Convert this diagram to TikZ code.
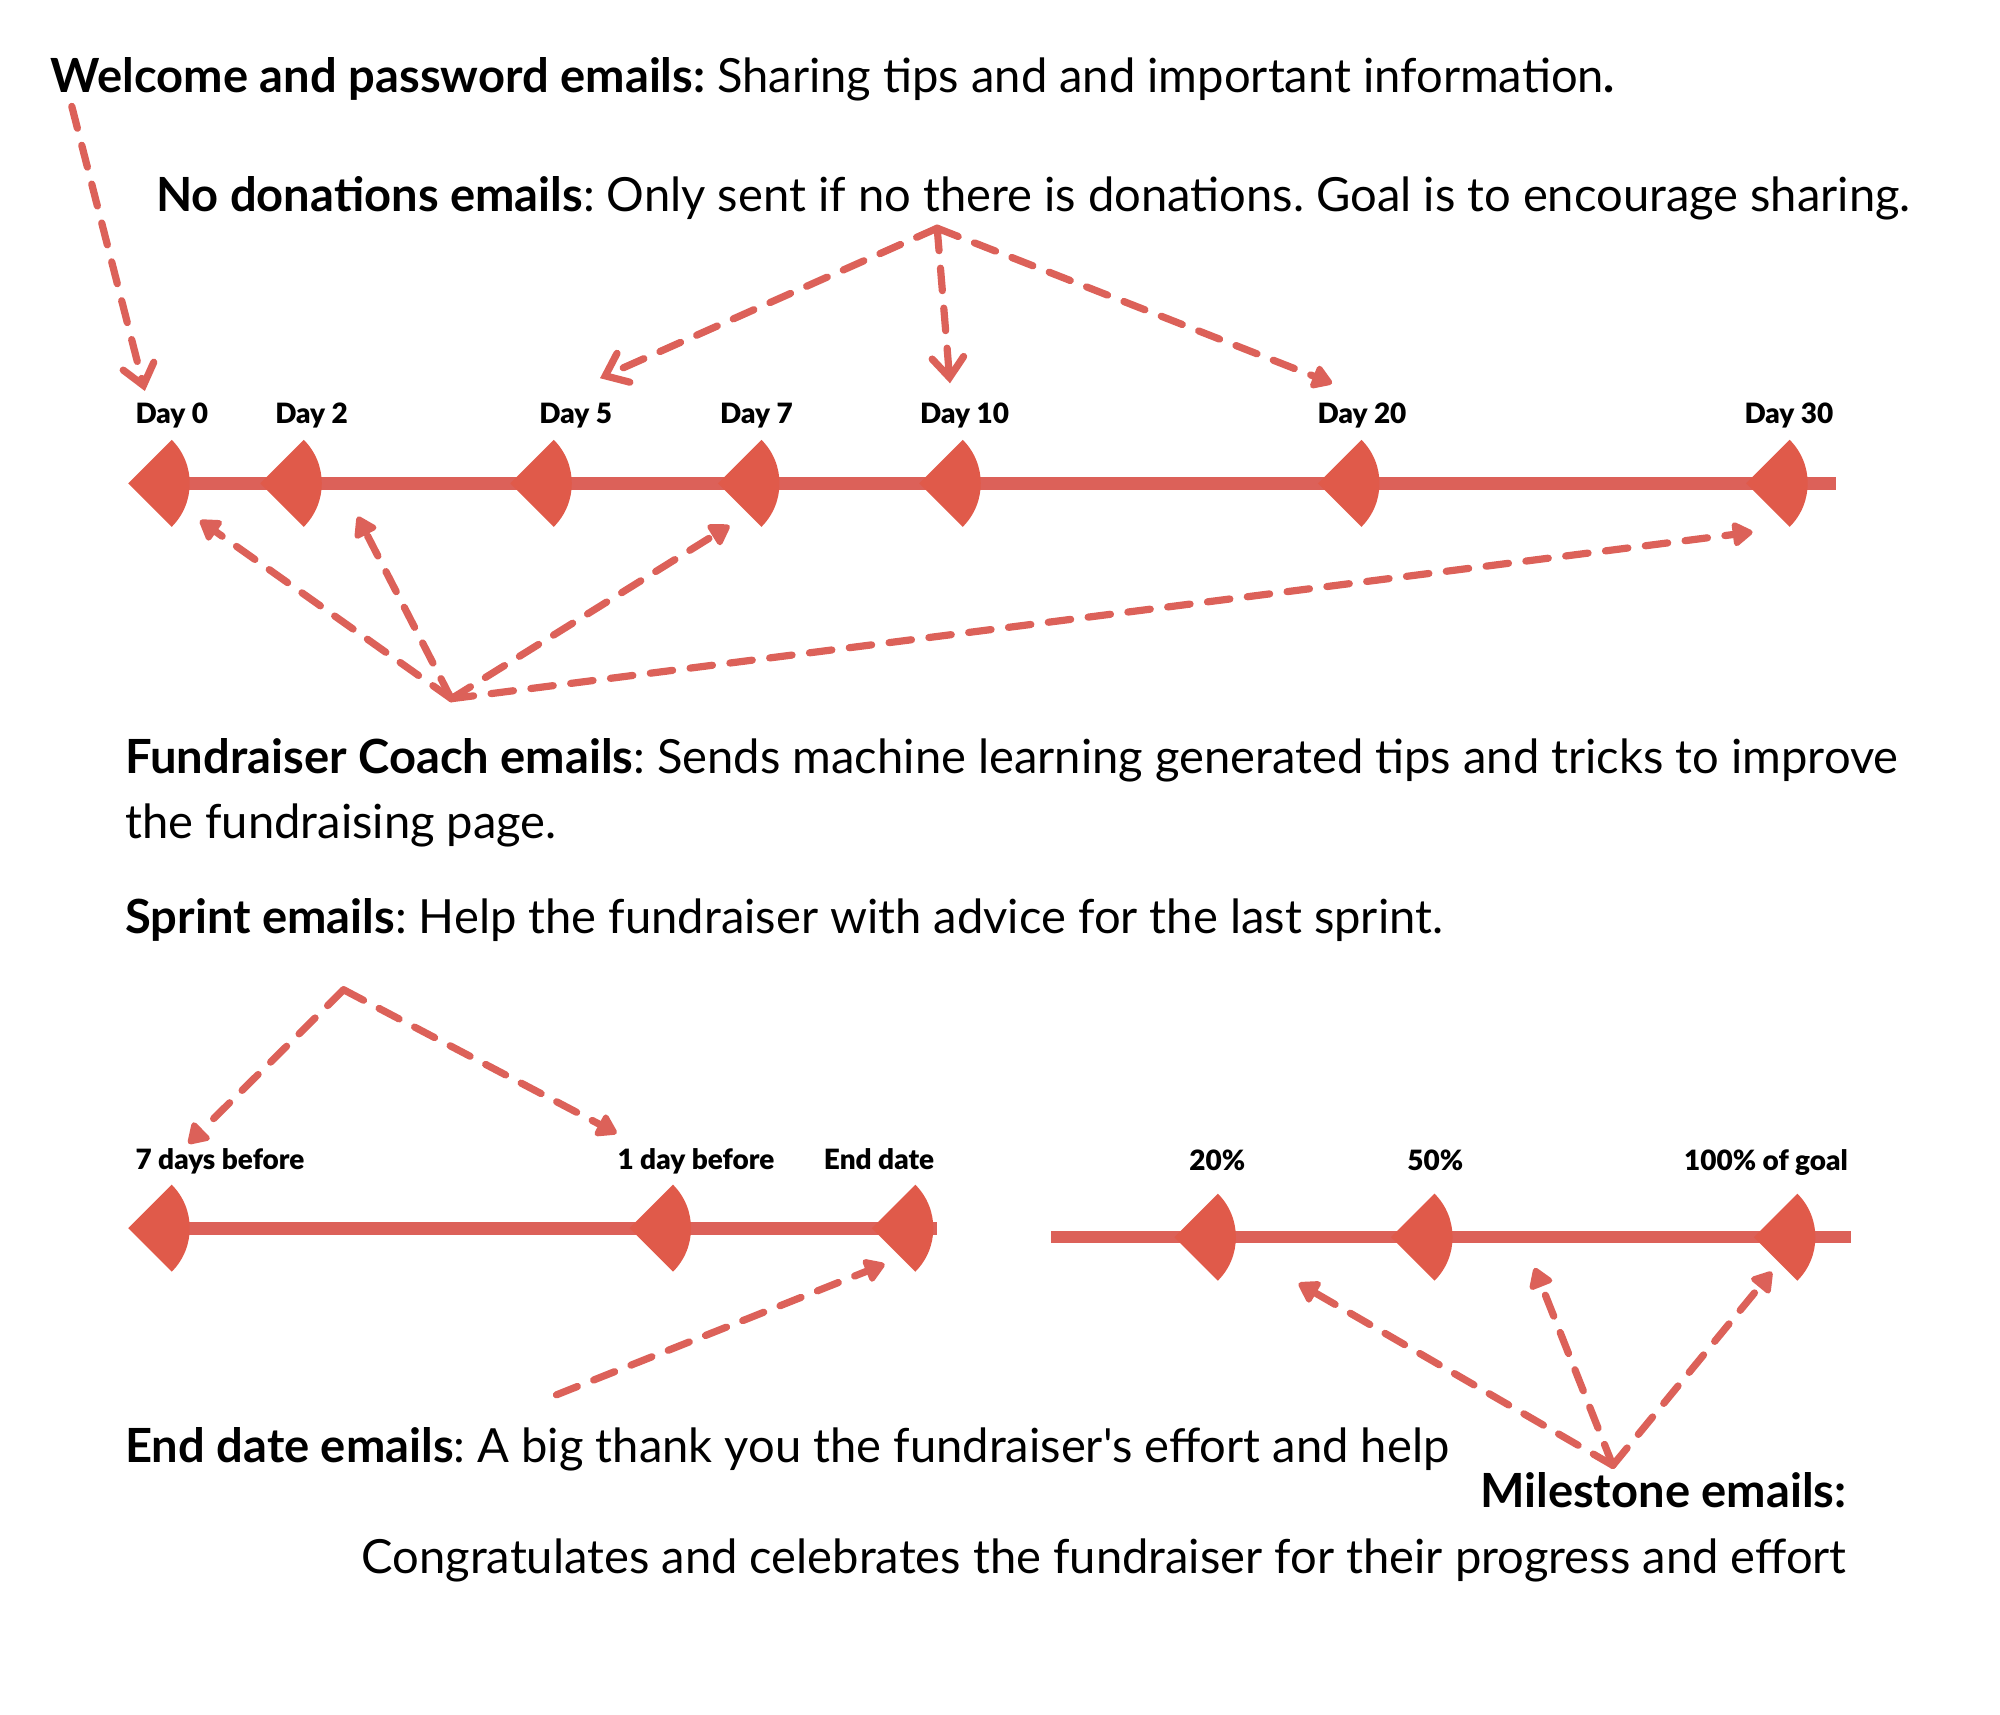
\documentclass[tikz,border=0pt]{standalone}
\usepackage{fontspec}
\setmainfont{Lato}[Ligatures=TeXOff]
\IfFontExistsTF{Lato Black}
  {\newfontfamily\heavyfont{Lato Black}[Ligatures=TeXOff]}
  {\newfontfamily\heavyfont{Lato}[Ligatures=TeXOff,UprightFont=*-Bold,FakeStretch=1.06]}
\usetikzlibrary{arrows.meta}
\definecolor{markred}{HTML}{E05A4A}
\definecolor{linered}{HTML}{DC6159}
% sector shaped marker, tip on the left
\newcommand{\daymark}[3]{%
  \fill[markred] (#2-34,#3) coordinate (#1) -- ++(45:48) arc[start angle=45,end angle=-45,radius=48] -- cycle;}
\begin{document}
\frenchspacing
\begin{tikzpicture}[x=0.01cm,y=-0.01cm,
  txt/.style={anchor=base west,inner sep=0pt,font=\fontsize{10.45}{12}\selectfont},
  lbl/.style={anchor=base west,inner sep=0pt,font=\fontsize{6.2}{7}\selectfont\heavyfont},
  axis/.style={linered,line width=2.8pt},
  hint/.style={linered,line width=1.6pt,line cap=round,dash pattern=on 5pt off 3.9pt,
    -{Triangle[length=5pt,width=6pt,round]}},
  barb/.style={hint,-{Straight Barb[length=4.4pt,width=7pt,line cap=round]}}]
\useasboundingbox (0,0) rectangle (1560,1337);

% texts
\node[txt] (welcome) at (39,72) {\textbf{Welcome and password emails:} Sharing tips and and important information\textbf{.}};
\node[txt] (nodon) at (121,165) {\textbf{No donations emails}: Only sent if no there is donations. Goal is to encourage sharing.};
\node[txt] (coach) at (97,603) {\textbf{Fundraiser Coach emails}: Sends machine learning generated tips and tricks to improve};
\node[txt] (coachb) at (97,654) {the fundraising page.};
\node[txt] (sprint) at (97,728) {\textbf{Sprint emails}: Help the fundraiser with advice for the last sprint.};
\node[txt] (enddate) at (97,1141) {\textbf{End date emails}: A big thank you the fundraiser's effort and help};
\node[txt,anchor=base east] (milestone) at (1441,1176) {\textbf{Milestone emails:}};
\node[txt,anchor=base east] (milestoneb) at (1441,1227) {Congratulates and celebrates the fundraiser for their progress and effort};

% first timeline
\draw[axis] (105,377) -- (1432,377);
\daymark{d0}{134}{377}
\daymark{d2}{237}{377}
\daymark{d5}{432}{377}
\daymark{d7}{594}{377}
\daymark{d10}{751}{377}
\daymark{d20}{1062}{377}
\daymark{d30}{1396}{377}
\node[lbl] (l0) at (105,330) {Day 0};
\node[lbl] (l2) at (214,330) {Day 2};
\node[lbl] (l5) at (420,330) {Day 5};
\node[lbl] (l7) at (561,330) {Day 7};
\node[lbl] (l10) at (717,330) {Day 10};
\node[lbl] (l20) at (1027,330) {Day 20};
\node[lbl] (l30) at (1360,330) {Day 30};

% second timeline
\draw[axis] (105,958) -- (731,958);
\daymark{s7}{134}{958}
\daymark{s1}{525}{958}
\daymark{se}{714}{958}
\node[lbl] (ls7) at (105,912) {7 days before};
\node[lbl] (ls1) at (481,912) {1 day before};
\node[lbl] (lse) at (642,912) {End date};

% third timeline
\draw[axis] (820,965) -- (1444,965);
\daymark{m20}{950}{965}
\daymark{m50}{1119}{965}
\daymark{m100}{1402}{965}
\node[lbl] (lm20) at (927,913) {20\%};
\node[lbl] (lm50) at (1097,913) {50\%};
\node[lbl] (lm100) at (1313,913) {100\% of goal};

% arrow ends
\coordinate (wstart) at (56,83);
\coordinate (ndtop) at (731,178);
\coordinate (cotop) at (352,545);
\coordinate (sptop) at (268,772);
\coordinate (edstart) at (434,1088);
\coordinate (mstop) at (1258,1143);
\coordinate (a0) at (113,305);
\coordinate (a5) at (468,295);
\coordinate (a10) at (741,299);
\coordinate (a20) at (1039,299);
\coordinate (b0) at (156,406);
\coordinate (b2) at (279,403);
\coordinate (b7) at (569,410);
\coordinate (b30) at (1367,415);
\coordinate (c7) at (147,892);
\coordinate (c1) at (481,884);
\coordinate (ce) at (690,986);
\coordinate (e20) at (1013,1001);
\coordinate (e50) at (1197,989);
\coordinate (e100) at (1382,992);

\draw[barb] (wstart) -- (a0);
\draw[barb] (ndtop) -- (a5);
\draw[barb] (ndtop) -- (a10);
\draw[hint] (ndtop) -- (a20);
\foreach \t in {b0,b2,b7,b30}
  \draw[hint] (cotop) -- (\t);
\draw[hint] (sptop) -- (c7);
\draw[hint] (sptop) -- (c1);
\draw[hint] (edstart) -- (ce);
\foreach \t in {e20,e50,e100}
  \draw[hint] (mstop) -- (\t);
\end{tikzpicture}
\end{document}
